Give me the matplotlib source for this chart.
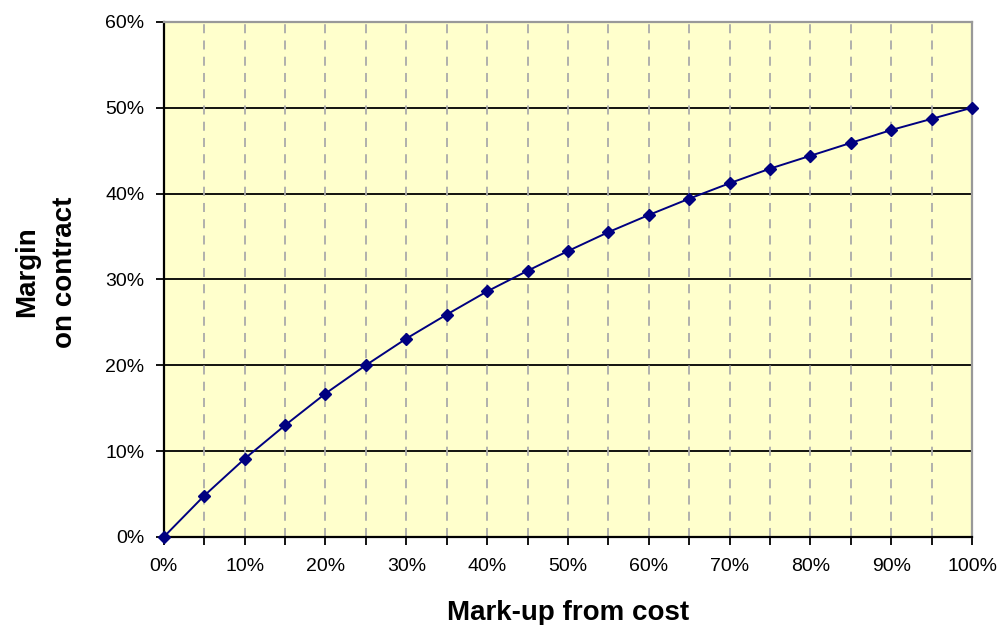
import matplotlib
matplotlib.use("Agg")
import matplotlib.pyplot as plt
from matplotlib.ticker import MultipleLocator, FuncFormatter

plt.rcParams['font.family'] = ['Liberation Sans', 'DejaVu Sans']

# Mark-up on cost (%) and resulting margin on contract (%)
markup = [0, 5, 10, 15, 20, 25, 30, 35, 40, 45, 50, 55, 60, 65, 70, 75, 80, 85, 90, 95, 100]
margin = [0, 4.8, 9.1, 13.0, 16.7, 20.0, 23.1, 25.9, 28.6, 31.0, 33.3,
          35.5, 37.5, 39.4, 41.2, 42.9, 44.4, 45.9, 47.4, 48.7, 50.0]

x_label = "Mark-up from cost"
y_label = "Margin\non contract"

fig = plt.figure(figsize=(9.99, 6.25), dpi=100)
ax = fig.add_axes([0.164, 0.141, 0.809, 0.824])
ax.set_facecolor('#FFFFCC')

ax.set_xlim(0, 100)
ax.set_ylim(0, 60)

# Grid: solid black horizontals, dashed grey verticals
for yv in range(10, 60, 10):
    ax.axhline(yv, color='black', lw=1.3, zorder=1)
for xv in range(5, 100, 5):
    ax.axvline(xv, color='#AAAAAA', lw=1.3, ls=(0, (5, 4)), zorder=1)

ax.plot(markup, margin, color='#000080', lw=1.4, marker='D', markersize=6.5,
        markerfacecolor='#000080', markeredgecolor='#000080', zorder=3, clip_on=False)

ax.xaxis.set_major_locator(MultipleLocator(10))
ax.xaxis.set_minor_locator(MultipleLocator(5))
ax.yaxis.set_major_locator(MultipleLocator(10))
pct = FuncFormatter(lambda v, p: f"{int(round(v))}%")
ax.xaxis.set_major_formatter(pct)
ax.yaxis.set_major_formatter(pct)

ax.tick_params(axis='both', which='both', direction='out', color='black', width=1.3)
ax.tick_params(axis='x', which='major', length=6, labelsize=14, pad=9)
ax.tick_params(axis='x', which='minor', length=6)
ax.tick_params(axis='y', which='major', length=6, labelsize=14, pad=8)

for side in ('left', 'bottom'):
    ax.spines[side].set_color('black')
    ax.spines[side].set_linewidth(1.6)
for side in ('top', 'right'):
    ax.spines[side].set_color('#999999')
    ax.spines[side].set_linewidth(1.6)

ax.set_xlabel(x_label, fontsize=20, fontweight='bold', labelpad=18)
fig.text(0.046, 0.565, y_label, rotation=90, fontsize=20, fontweight='bold',
         ha='center', va='center', multialignment='center', linespacing=1.6)

fig.savefig("out.png", dpi=100)
